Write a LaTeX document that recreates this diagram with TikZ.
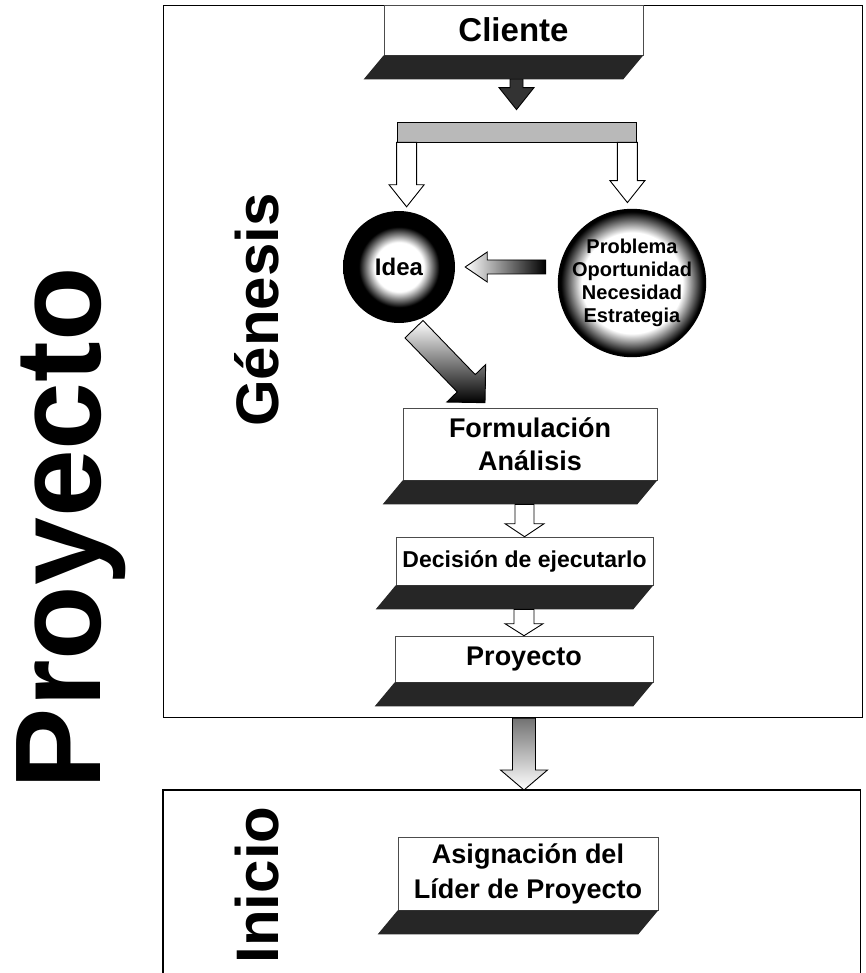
\documentclass[tikz,border=0pt]{standalone}
\usepackage{fontspec}
\setmainfont{Liberation Sans}
\usetikzlibrary{calc}
\pgfdeclareradialshading{ideaglow}{\pgfpoint{0bp}{0bp}}{color(0bp)=(white); color(11bp)=(white); color(18bp)=(black); color(50bp)=(black)}
\pgfdeclareradialshading{problemglow}{\pgfpoint{0bp}{0bp}}{color(0bp)=(white); color(17bp)=(white); color(24bp)=(black); color(50bp)=(black)}
% block arrow: [look]{half shaft}{half head}{head length}{from}{to}
\newcommand{\blockarrow}[6][fill=white]{%
  \coordinate (ba-s) at (#5);
  \coordinate (ba-e) at (#6);
  \coordinate (ba-m) at ($(ba-e)!#4!(ba-s)$);
  \draw[blockline,#1] ($(ba-s)!#2!90:(ba-e)$) -- ($(ba-m)!#2!90:(ba-e)$)
    -- ($(ba-m)!#3!90:(ba-e)$) -- (ba-e) -- ($(ba-m)!#3!-90:(ba-e)$)
    -- ($(ba-m)!#2!-90:(ba-e)$) -- ($(ba-s)!#2!-90:(ba-e)$) -- cycle;}

\begin{document}
\begin{tikzpicture}[x=1pt,y=-1pt,
      every node/.style={align=center,inner sep=0pt},
      panel/.style={draw=black,line width=1.2pt},
      face/.style={draw=black!70,line width=0.6pt,fill=white},
      band/.style={fill=black!85},
      bar/.style={draw=black,line width=0.8pt,fill=gray!55,
        minimum width=239pt,minimum height=20pt},
      blockline/.style={draw=black,line width=0.9pt},
      ideacirc/.style={circle,minimum size=112pt,shading=ideaglow,
        font=\fontsize{24}{26}\selectfont\bfseries},
      problemcirc/.style={circle,minimum size=140pt,shading=problemglow,
        font=\fontsize{20}{23}\selectfont\bfseries},
      sidelabel/.style={rotate=90,anchor=base,font=\fontsize{60}{60}\selectfont\bfseries},
      boxfont/.style={font=\fontsize{27}{33}\selectfont\bfseries}]
      \useasboundingbox (0,0) rectangle (866,973);
      % panels
      \node[panel,minimum width=699pt,minimum height=712pt,anchor=north west] (genesis) at (163,5) {};
      \node[minimum width=697pt,minimum height=183pt,anchor=north west] (inicio) at (163,790) {};
      \draw[panel] (inicio.south west) -- (inicio.north west) -- (inicio.north east) -- (inicio.south east);
      \node[rotate=90,anchor=base,font=\fontsize{122}{122}\selectfont\bfseries] (proyectoLabel) at (100,528) {Proyecto};
      \node[sidelabel] (genesisLabel) at (278,310) {Génesis};
      \node[sidelabel] (inicioLabel) at (278,885) {Inicio};
      % boxes
      \node[face,minimum width=259pt,minimum height=50pt,font=\fontsize{33}{36}\selectfont\bfseries] (cliente) at (513.5,30) {Cliente};
      \node[bar] (split) at (516.5,132) {};
      \node[ideacirc] (idea) at (399,267) {Idea};
      \node[problemcirc] (problema) at (632,283) {Problema\\Oportunidad\\Necesidad\\Estrategia};
      \node[face,boxfont,minimum width=254pt,minimum height=72pt] (formulacion) at (530,444) {Formulación\\Análisis};
      \node[face,minimum width=257pt,minimum height=48pt,font=\fontsize{23}{26}\selectfont\bfseries] (decision) at (524.5,561) {Decisión de ejecutarlo};
      \node[face,boxfont,minimum width=258pt,minimum height=46pt] (proyecto) at (524,659) {Proyecto};
      \node[face,font=\fontsize{27}{35}\selectfont\bfseries,minimum width=260pt,minimum height=73pt] (asignacion) at (528,873.5) {Asignación del\\Líder de Proyecto};
      \foreach \n in {cliente,formulacion,decision,proyecto,asignacion} {
        \fill[band] (\n.south west) -- (\n.south east) -- ([shift={(-20pt,-24pt)}]\n.south east)
          -- ([shift={(-20pt,-24pt)}]\n.south west) -- cycle;
        \coordinate (\n-base) at ([shift={(-10pt,-24pt)}]\n.south);
      }
      % arrows
      \coordinate (splitL) at ([xshift=10pt]split.south west);
      \coordinate (splitR) at ([xshift=-9pt]split.south east);
      \blockarrow[fill=black!80]{6.5pt}{17.5pt}{22pt}{cliente-base -| split.north}{$(split.north)+(0,-12)$}
      \blockarrow{10pt}{17.5pt}{22pt}{splitL}{$(splitL |- idea.north)+(0,-4)$}
      \blockarrow{10pt}{17.5pt}{22pt}{splitR}{$(splitR |- problema.north)+(0,-6)$}
      \blockarrow[left color=white,middle color=white,right color=black]{7pt}{15pt}{22pt}{$(problema.west |- idea.east)+(-12,0)$}{$(idea.east)+(10,0)$}
      \blockarrow[top color=white,middle color=white,bottom color=black]{12.5pt}{27pt}{27pt}{$(idea.south)+(15,6)$}{$(formulacion.north)+(-45,-5)$}
      \blockarrow{9.5pt}{19.5pt}{13pt}{formulacion-base -| decision.north}{decision.north}
      \blockarrow{10pt}{19pt}{12pt}{decision-base -| proyecto.north}{proyecto.north}
      \blockarrow[top color=black!55,bottom color=white]{11.5pt}{23.5pt}{20pt}{proyecto.south |- genesis.south}{proyecto.south |- inicio.north}
    \end{tikzpicture}
\end{document}
